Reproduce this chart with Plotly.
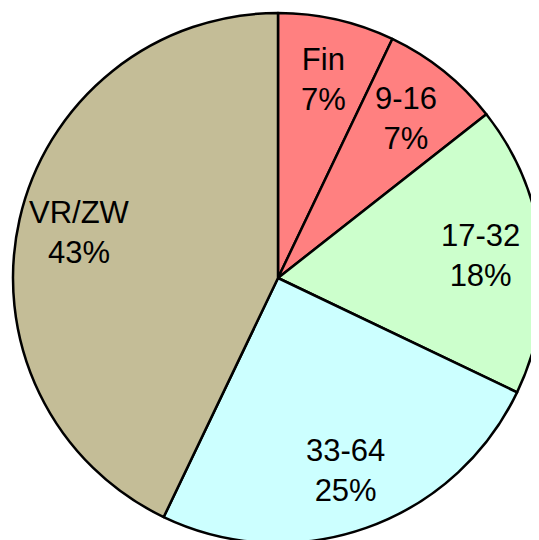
import math
import plotly.graph_objects as go

labels = ["Fin", "9-16", "17-32", "33-64", "VR/ZW"]
values = [7.1, 7.3, 17.7, 25.0, 42.9]
percent_text = ["7%", "7%", "18%", "25%", "43%"]
colors = ["#FF8080", "#FF8080", "#CCFFCC", "#CCFFFF", "#C4BD97"]

W, H = 539, 540
# pie area (page body adds an 8px offset)
dom_x = [5 / W, 535 / W]
dom_y = [1 - 535 / H, 1 - 5 / H]

fig = go.Figure(go.Pie(
    labels=labels,
    values=values,
    sort=False,
    direction="clockwise",
    rotation=0,
    marker=dict(colors=colors, line=dict(color="black", width=2.5)),
    textinfo="none",
    showlegend=False,
    hoverinfo="skip",
    domain=dict(x=dom_x, y=dom_y),
))

cx = (dom_x[0] + dom_x[1]) / 2 * W
cy = (1 - (dom_y[0] + dom_y[1]) / 2) * H
R = min((dom_x[1] - dom_x[0]) * W, (dom_y[1] - dom_y[0]) * H) / 2
total = sum(values)
cum = 0
for lab, v, pt in zip(labels, values, percent_text):
    mid = (cum + v / 2) / total * 2 * math.pi
    cum += v
    r = 0.77 * R
    px = cx + r * math.sin(mid)
    py = cy - r * math.cos(mid)
    fig.add_annotation(
        x=px / W, y=1 - py / H, xref="paper", yref="paper",
        text=f"{lab}<br>{pt}", showarrow=False,
        font=dict(family="Liberation Sans, Arial, sans-serif", size=31, color="black"),
        xanchor="center", yanchor="middle",
    )

fig.update_layout(
    width=W, height=H,
    margin=dict(l=0, r=0, t=0, b=0),
    paper_bgcolor="white",
)
fig.write_html("out.html")
